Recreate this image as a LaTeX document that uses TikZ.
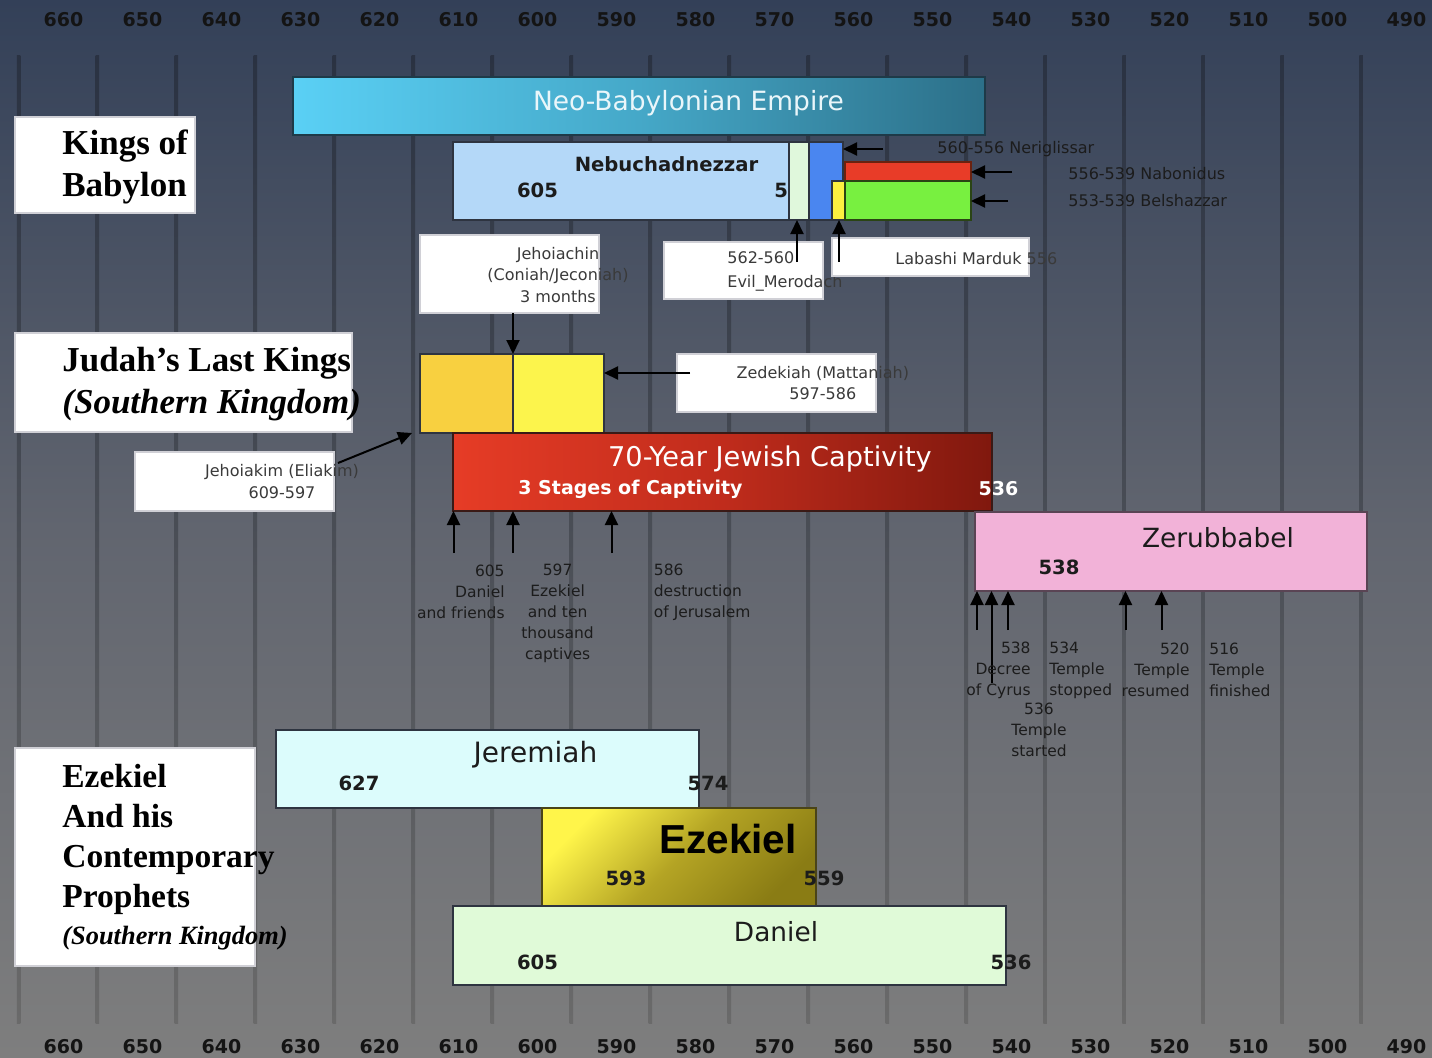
\documentclass[tikz,border=0pt]{standalone}
\usepackage{fontspec}
\setmainfont{DejaVu Sans}
\newfontfamily\tnr{Liberation Serif}
\newfontfamily\arl{Liberation Sans}
\usetikzlibrary{fit,arrows.meta}
\definecolor{bgtop}{HTML}{334058}
\definecolor{bgmid}{HTML}{61656F}
\definecolor{bgbot}{HTML}{7E7E7E}
\definecolor{gltop}{HTML}{2A3242}
\definecolor{glbot}{HTML}{6A6A6A}
\definecolor{axcol}{HTML}{141414}
\definecolor{neoL}{HTML}{5AD0F5}
\definecolor{neoM}{HTML}{45A8C8}
\definecolor{neoR}{HTML}{2C6F88}
\definecolor{neoB}{HTML}{1E3A48}
\definecolor{neoT}{HTML}{EAF6FA}
\definecolor{bord}{HTML}{2E3440}
\definecolor{wboxB}{HTML}{D0D0D6}
\definecolor{nebc}{HTML}{B4D8F8}
\definecolor{palec}{HTML}{E0F8DC}
\definecolor{bluec}{HTML}{4A86F0}
\definecolor{ylwc}{HTML}{FCF040}
\definecolor{redc}{HTML}{E83C28}
\definecolor{redB}{HTML}{6A2210}
\definecolor{grnc}{HTML}{78F040}
\definecolor{grnB}{HTML}{2A4414}
\definecolor{jkc}{HTML}{F8D040}
\definecolor{zdc}{HTML}{FCF44C}
\definecolor{capL}{HTML}{E63C26}
\definecolor{capM}{HTML}{C02C1C}
\definecolor{capR}{HTML}{80180E}
\definecolor{capB}{HTML}{3A1A16}
\definecolor{zerc}{HTML}{F2B2D8}
\definecolor{zerB}{HTML}{5A4454}
\definecolor{jerc}{HTML}{DCFCFC}
\definecolor{ezY}{HTML}{FFF54A}
\definecolor{ezM}{HTML}{B4A424}
\definecolor{ezO}{HTML}{8A7C14}
\definecolor{ezB}{HTML}{4A4418}
\definecolor{danc}{HTML}{E0FAD8}
\definecolor{txtc}{HTML}{1C1C1C}
\definecolor{annc}{HTML}{3A3A3A}
\begin{document}
\begin{tikzpicture}[x=0.5pt,y=-0.5pt,
  bar/.style={inner sep=0pt,outer sep=0pt,draw=bord,line width=1pt},
  wbox/.style={inner sep=0pt,outer sep=0pt,fill=white,draw=wboxB,line width=1pt},
  axl/.style={inner sep=0pt,text=axcol,font=\bfseries\fontsize{9.5}{11}\selectfont},
  bl/.style={inner sep=0pt,text=txtc,font=\bfseries\fontsize{9.8}{12}\selectfont},
  wbl/.style={inner sep=0pt,text=white,font=\bfseries\fontsize{9.5}{12}\selectfont},
  big/.style={inner sep=0pt,text=txtc,font=\fontsize{13.2}{16}\selectfont},
  ann/.style={inner sep=0pt,text=annc,font=\fontsize{8}{10.75}\selectfont},
  ann2/.style={inner sep=0pt,text=txtc,font=\fontsize{7.75}{10.5}\selectfont},
  hdr/.style={inner sep=0pt,text=black,align=left,font=\tnr\bfseries\fontsize{17.5}{20.75}\selectfont},
  arr/.style={-{Triangle[length=7pt,width=6.5pt]},line width=1pt,draw=black}]
\useasboundingbox (0,0) rectangle (1432,1057);
% background
\shade[top color=bgtop,bottom color=bgbot,middle color=bgmid] (0,0) rectangle (1432,1057);
% grid lines
\foreach \k in {0,...,17}{
  \shade[top color=gltop,bottom color=glbot] ({18.5+78.98*\k-1.75},55) rectangle ({18.5+78.98*\k+1.75},1023);
}
% axis labels
\foreach \yr [count=\k from 0] in {660,650,...,490}{
  \node[axl] (ta\k) at ({63.5+79*\k},20) {\yr};
  \node[axl] (ba\k) at ({63.5+79*\k},1047) {\yr};
}
% Neo-Babylonian Empire
\node[bar,fit={(293,77)(985,135)},left color=neoL,right color=neoR,middle color=neoM,draw=neoB] (neo) {};
\node[inner sep=0pt,text=neoT,font=\fontsize{13.25}{16}\selectfont] (neoT) at (688.5,103) {Neo-Babylonian Empire};
% Kings of Babylon
\node[wbox,fit={(15,117)(195,213)}] (kingsbox) {};
\node[hdr,anchor=west] (kingsT) at (62,167) {Kings of\\Babylon};
% kings bars
\node[bar,fit={(453,142)(789,220)},fill=nebc] (neb) {};
\node[bar,fit={(789,142)(809,220)},fill=palec] (evil) {};
\node[bar,fit={(809,142)(843,220)},fill=bluec] (nerig) {};
\node[bar,fit={(832,181)(845,220)},fill=ylwc] (labashi) {};
\node[bar,fit={(845,162)(971,181)},fill=redc,draw=redB] (nabon) {};
\node[bar,fit={(845,181)(971,220)},fill=grnc,draw=grnB] (belsh) {};
\node[bl] (nebT) at (666.5,164) {Nebuchadnezzar};
\node[bl] (neb605) at (537.5,190) {605};
\node[bl,anchor=west] (neb5) at (774,190) {5};
% right labels
\node[ann,text=txtc,anchor=west] (nerT) at (937,149) {560-556 Neriglissar};
\node[ann,text=txtc,anchor=west] (nabT) at (1068,174) {556-539 Nabonidus};
\node[ann,text=txtc,anchor=west] (belT) at (1068,201) {553-539 Belshazzar};
\coordinate (nerA) at (883,149);
\coordinate (nabA) at (1012,172);
\coordinate (belA) at (1008,201);
\draw[arr] (nerA) -- (nerA -| nerig.east);
\draw[arr] (nabA) -- (nabA -| nabon.east);
\draw[arr] (belA) -- (belA -| belsh.east);
% annotation boxes
\node[wbox,fit={(420,235)(599,313)}] (jcbox) {};
\node[ann,align=center] (jcT) at (558,275) {Jehoiachin\\(Coniah/Jeconiah)\\3 months};
\node[wbox,fit={(664,242)(823,299)}] (evbox) {};
\node[ann,align=left,anchor=west,font=\fontsize{8}{12}\selectfont] (evT) at (727,271) {562-560\\Evil\_Merodach};
\node[wbox,fit={(832,238)(1029,276)}] (lbbox) {};
\node[ann,anchor=west] (lbT) at (895,259) {Labashi Marduk 556};
\coordinate (evA) at (797,262);
\coordinate (lbA) at (839,262);
\draw[arr] (evA) -- (evA |- evil.south);
\draw[arr] (lbA) -- (lbA |- labashi.south);
% Judah
\node[wbox,fit={(15,333)(352,432)}] (judahbox) {};
\node[hdr,anchor=west] (judahT) at (62,384) {Judah’s Last Kings\\\textit{(Southern Kingdom)}};
\node[bar,fit={(420,354)(513,433)},fill=jkc] (jk) {};
\node[bar,fit={(513,354)(604,433)},fill=zdc] (zd) {};
\coordinate (jcA) at (513,313);
\draw[arr] (jcA) -- (jcA |- jk.north);
\node[wbox,fit={(677,354)(876,412)}] (zdbox) {};
\node[ann,align=center] (zdT) at (822.8,383) {Zedekiah (Mattaniah)\\597-586};
\coordinate (zdA) at (690,373);
\draw[arr] (zdA) -- (zdA -| zd.east);
\node[wbox,fit={(135,452)(334,511)}] (jkbox) {};
\node[ann,align=center] (jkT) at (282,481.5) {Jehoiakim (Eliakim)\\609-597};
% Captivity
\node[bar,fit={(453,433)(992,511)},left color=capL,right color=capR,middle color=capM,draw=capB] (cap) {};
\node[inner sep=0pt,text=white,font=\fontsize{13.6}{16}\selectfont] (capT) at (770,459) {70-Year Jewish Captivity};
\node[wbl,anchor=west] (capS) at (518,489) {3 Stages of Captivity};
\node[wbl] (cap536) at (998.5,489) {536};
\coordinate (jkA) at (338,463);
\coordinate (jkB) at (412,433);
\draw[arr] (jkA) -- (jkB);
\coordinate (c1) at (453.5,553);
\coordinate (c2) at (513,553);
\coordinate (c3) at (611.5,553);
\draw[arr] (c1) -- (c1 |- cap.south);
\draw[arr] (c2) -- (c2 |- cap.south);
\draw[arr] (c3) -- (c3 |- cap.south);
\node[ann2,align=right,anchor=east] (c1T) at (505,592) {605\\Daniel\\and friends};
\node[ann2,align=center] (c2T) at (557.6,613) {597\\Ezekiel\\and ten\\thousand\\captives};
\node[ann2,align=left,anchor=west] (c3T) at (653.5,592) {586\\destruction\\of Jerusalem};
% Zerubbabel
\node[bar,fit={(975,512)(1367,591)},fill=zerc,draw=zerB] (zer) {};
\node[big] (zerT) at (1218,538) {Zerubbabel};
\node[bl] (zer538) at (1059,567) {538};
\coordinate (z1) at (977,630);
\coordinate (z2) at (991.5,683);
\coordinate (z3) at (1008,630);
\coordinate (z4) at (1125.5,630);
\coordinate (z5) at (1161.5,630);
\draw[arr] (z1) -- (z1 |- zer.south);
\draw[arr] (z2) -- (z2 |- zer.south);
\draw[arr] (z3) -- (z3 |- zer.south);
\draw[arr] (z4) -- (z4 |- zer.south);
\draw[arr] (z5) -- (z5 |- zer.south);
\node[ann2,align=right,anchor=east] (z1T) at (1031,670) {538\\Decree\\of Cyrus};
\node[ann2,align=left,anchor=west] (z2T) at (1049,670) {534\\Temple\\stopped};
\node[ann2,align=right,anchor=east] (z3T) at (1190,670) {520\\Temple\\resumed};
\node[ann2,align=left,anchor=west] (z4T) at (1209,670) {516\\Temple\\finished};
\node[ann2,align=center] (z5T) at (1039,730) {536\\Temple\\started};
% Prophets
\node[wbox,fit={(15,748)(255,966)}] (probox) {};
\node[hdr,anchor=west,font=\tnr\bfseries\fontsize{16.75}{20}\selectfont] (proT) at (62,839) {Ezekiel\\And his\\Contemporary\\Prophets};
\node[hdr,anchor=west,font=\tnr\bfseries\itshape\fontsize{13.2}{16}\selectfont] (proS) at (62,938) {(Southern Kingdom)};
\node[bar,fit={(276,730)(699,808)},fill=jerc] (jer) {};
\node[big,font=\fontsize{14}{16}\selectfont] (jerT) at (535.5,755) {Jeremiah};
\node[bl] (jer627) at (359,783) {627};
\node[bl] (jer574) at (708,783) {574};
\node[bar,fit={(542,808)(816,906)},top color=ezY,bottom color=ezO,middle color=ezM,shading angle=45,draw=ezB] (eze) {};
\node[inner sep=0pt,text=black,font=\arl\bfseries\fontsize{20.25}{24}\selectfont] (ezeT) at (728,839) {Ezekiel};
\node[bl] (eze593) at (626,878) {593};
\node[bl] (eze559) at (824,878) {559};
\node[bar,fit={(453,906)(1006,985)},fill=danc] (dan) {};
\node[big] (danT) at (776,932) {Daniel};
\node[bl] (dan605) at (537.5,962) {605};
\node[bl] (dan536) at (1011,962) {536};
\end{tikzpicture}
\end{document}
